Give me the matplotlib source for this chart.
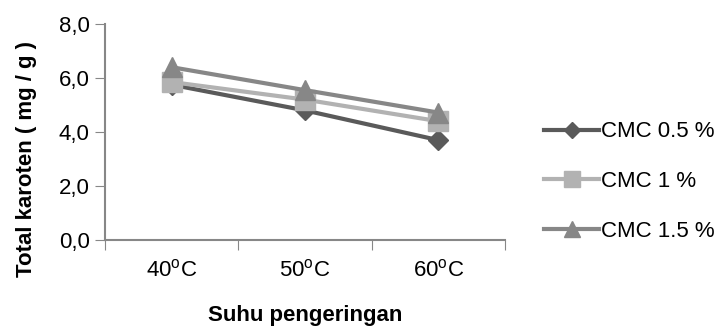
import matplotlib
matplotlib.use("Agg")
import matplotlib.pyplot as plt

# data
suhu = ["40$^{\\mathrm{o}}$C", "50$^{\\mathrm{o}}$C", "60$^{\\mathrm{o}}$C"]
cmc_05 = [5.75, 4.8, 3.7]
cmc_1 = [5.85, 5.2, 4.4]
cmc_15 = [6.4, 5.55, 4.72]
y_ticks = [0, 2, 4, 6, 8]

plt.rcParams['font.family'] = ['Liberation Sans', 'DejaVu Sans']
plt.rcParams['mathtext.fontset'] = 'custom'
plt.rcParams['mathtext.rm'] = 'Liberation Sans'

fig = plt.figure(figsize=(7.21, 3.27), dpi=100)
ax = fig.add_axes([105 / 721, 1 - 240 / 327, 400 / 721, 216 / 327])

x = range(len(suhu))
ax.plot(x, cmc_05, color='#5a5a5a', lw=3.0, marker='D', ms=10,
        label='CMC 0.5 %', zorder=3)
ax.plot(x, cmc_1, color='#b2b2b2', lw=3.0, marker='s', ms=14,
        label='CMC 1 %', zorder=3)
ax.plot(x, cmc_15, color='#878787', lw=3.0, marker='^', ms=14,
        label='CMC 1.5 %', zorder=3)

ax.set_xlim(-0.5, len(suhu) - 0.5)
ax.set_ylim(0, 8)
ax.set_yticks(y_ticks)
ax.set_yticklabels([("%.1f" % v).replace('.', ',') for v in y_ticks])

# category boundaries get the tick marks, labels sit between them
ax.set_xticks([i - 0.5 for i in range(len(suhu) + 1)])
ax.set_xticklabels([])
ax.set_xticks(list(x), minor=True)
ax.set_xticklabels(suhu, minor=True)
ax.tick_params(axis='x', which='minor', length=0, pad=14, labelsize=16)
ax.tick_params(axis='x', which='major', length=7, color='#878787')
ax.tick_params(axis='y', length=7, color='#878787', labelsize=16, pad=4)

for side in ['top', 'right']:
    ax.spines[side].set_visible(False)
for side in ['left', 'bottom']:
    ax.spines[side].set_color('#878787')
    ax.spines[side].set_linewidth(1.5)

ax.set_xlabel('Suhu pengeringan', fontsize=16, fontweight='bold', labelpad=17)
ax.set_ylabel('Total karoten ( mg / g )', fontsize=16, fontweight='bold')
ax.yaxis.set_label_coords(-0.17, 0.375)

ax.legend(loc='center left', bbox_to_anchor=(1.075, 0.27), frameon=False,
          fontsize=16, handlelength=2.5, handletextpad=0.05, labelspacing=1.3,
          borderaxespad=0, markerscale=0.85)

fig.savefig('out.png', dpi=100)
